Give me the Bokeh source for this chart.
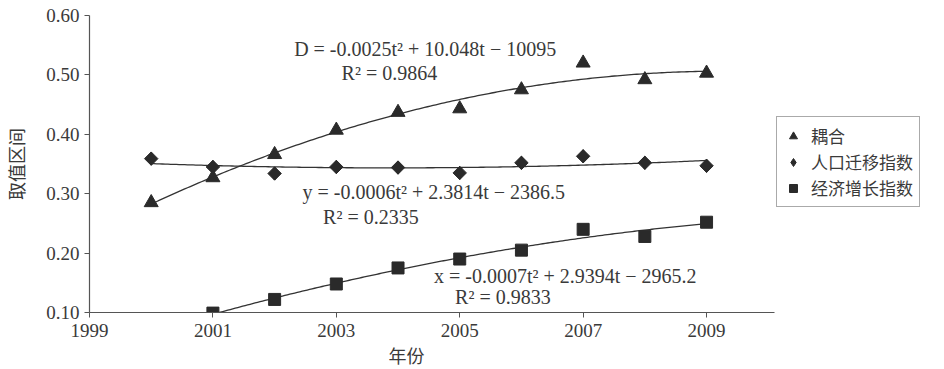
import numpy as np
from bokeh.plotting import figure
from bokeh.models import Label, Legend, LegendItem, FixedTicker, Range1d, NumeralTickFormatter, Title
from bokeh.embed import file_html
from bokeh.resources import INLINE

# ---- data ----
years = [2000, 2001, 2002, 2003, 2004, 2005, 2006, 2007, 2008, 2009]
coupling = [0.285, 0.327, 0.366, 0.407, 0.437, 0.443, 0.475, 0.520, 0.492, 0.503]
migration = [0.359, 0.345, 0.334, 0.345, 0.344, 0.335, 0.352, 0.363, 0.352, 0.347]
econ_years = [2001, 2002, 2003, 2004, 2005, 2006, 2007, 2008, 2009]
economy = [0.099, 0.122, 0.148, 0.175, 0.190, 0.205, 0.240, 0.228, 0.252]

x_ticks = [1999, 2001, 2003, 2005, 2007, 2009]
y_ticks = [0.10, 0.20, 0.30, 0.40, 0.50, 0.60]

legend_labels = ["耦合", "人口迁移指数", "经济增长指数"]
x_title = "年份"
y_title = "取值区间"
eq_D = "D = -0.0025t\u00b2 + 10.048t \u2212 10095"
r2_D = "R\u00b2 = 0.9864"
eq_y = "y = -0.0006t\u00b2 + 2.3814t \u2212 2386.5"
r2_y = "R\u00b2 = 0.2335"
eq_x = "x = -0.0007t\u00b2 + 2.9394t \u2212 2965.2"
r2_x = "R\u00b2 = 0.9833"

SERIF = "Liberation Serif"
CJK = "Noto Sans CJK SC"
INK = "#2a2a2a"
TXT = "#3a3a3a"

p = figure(frame_width=854, frame_height=297, output_backend="svg",
           toolbar_location=None,
           x_range=Range1d(1999, 2012.84), y_range=Range1d(0.10, 0.60),
           min_border_left=82, min_border_right=0, min_border_top=15,
           min_border_bottom=20)
p.outline_line_color = None
p.grid.visible = False
p.background_fill_color = "white"
p.border_fill_color = "white"

for ax in (p.xaxis[0], p.yaxis[0]):
    ax.axis_line_color = "#555555"
    ax.axis_line_width = 1.2
    ax.major_tick_line_color = "#555555"
    ax.major_tick_out = 5
    ax.major_tick_in = 0
    ax.minor_tick_line_color = None
    ax.major_label_text_font = SERIF
    ax.major_label_text_font_size = "19px"
    ax.major_label_text_color = TXT
    ax.axis_label_text_font = CJK
    ax.axis_label_text_font_size = "18px"
    ax.axis_label_text_font_style = "normal"
    ax.axis_label_text_color = TXT

p.xaxis.bounds = (1999, 2010.1)
p.xaxis.ticker = FixedTicker(ticks=x_ticks)
p.yaxis.ticker = FixedTicker(ticks=y_ticks)
p.xaxis.major_label_standoff = 6
p.yaxis.major_label_standoff = 5
p.yaxis.formatter = NumeralTickFormatter(format="0.00")
p.yaxis.axis_label = y_title
p.yaxis.axis_label_standoff = 14

p.add_layout(Title(text=x_title, align="left", offset=299, standoff=0,
                   text_font=CJK, text_font_size="18px",
                   text_font_style="normal", text_color=TXT), "below")

# trend lines (quadratic least-squares fits of the data)
def trend(xs, ys):
    xs = np.asarray(xs, float)
    ys = np.asarray(ys, float)
    c = np.polyfit(xs - 2005, ys, 2)
    xx = np.linspace(xs.min(), xs.max(), 200)
    return xx, np.polyval(c, xx - 2005)

for xs, ys in ((years, coupling), (years, migration), (econ_years, economy)):
    tx, ty = trend(xs, ys)
    p.line(tx, ty, line_color="#333333", line_width=1.3)

r1 = p.scatter(years, coupling, marker="triangle", size=14,
               fill_color=INK, line_color=INK)
# narrow diamond (used for the legend swatch), covered by the rotated square
r2_leg = p.scatter(years, migration, marker="diamond", size=13,
                   fill_color=INK, line_color=INK)
r2 = p.scatter(years, migration, marker="square", angle=45, angle_units="deg",
               size=9.5, fill_color=INK, line_color=INK)
r3 = p.scatter(econ_years, economy, marker="square", size=12,
               fill_color=INK, line_color=INK)

def lab(txt, x, y):
    p.add_layout(Label(x=x, y=y, text=txt, text_font=SERIF,
                       text_font_size="20px", text_color=TXT,
                       text_align="center", text_baseline="middle"))

lab(eq_D, 2004.44, 0.543)
lab(r2_D, 2003.86, 0.503)
lab(eq_y, 2004.58, 0.303)
lab(r2_y, 2003.56, 0.261)
lab(eq_x, 2006.71, 0.161)
lab(r2_x, 2005.70, 0.126)

legend = Legend(items=[LegendItem(label=legend_labels[0], renderers=[r1]),
                       LegendItem(label=legend_labels[1], renderers=[r2_leg]),
                       LegendItem(label=legend_labels[2], renderers=[r3])],
                location=(687, 105), margin=0, padding=6, spacing=1,
                label_height=20, glyph_height=20, glyph_width=20,
                label_standoff=8, label_text_font=CJK,
                label_text_font_size="17px", label_text_color=TXT,
                border_line_color="#555555", border_line_width=1.2,
                background_fill_alpha=1.0)
p.add_layout(legend, "center")

open("out.html", "w").write(file_html(p, INLINE))
